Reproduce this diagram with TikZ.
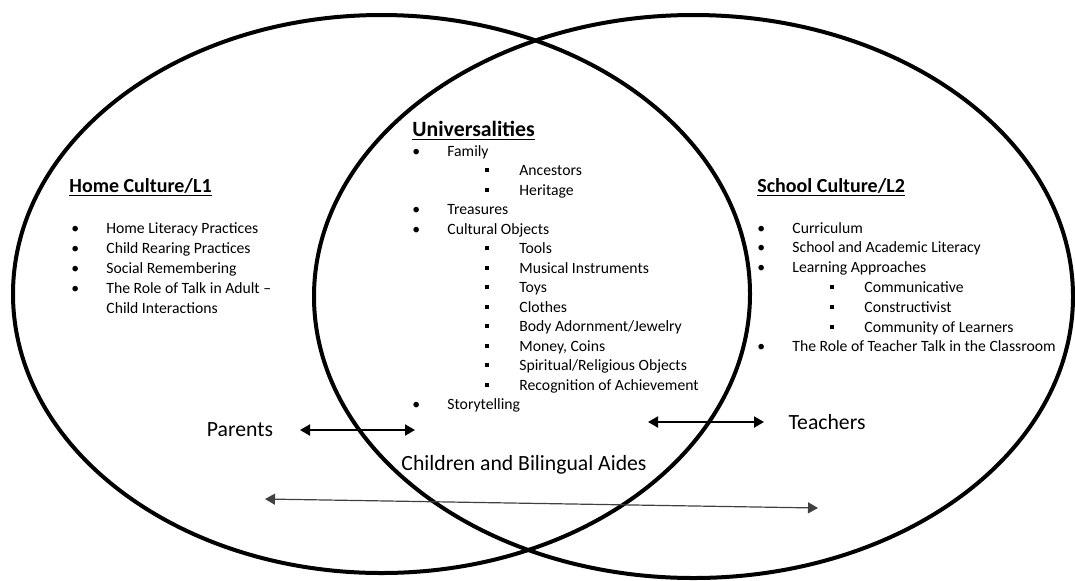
\documentclass[tikz,border=0pt]{standalone}
\usepackage{fontspec}
\setmainfont{Carlito}
\usepackage{tikz}
\usetikzlibrary{positioning,arrows.meta,shapes.geometric}
\tikzset{borde/.style={draw,ellipse,line width=2pt,inner sep=0pt}}
\tikzset{flecha/.style={line width=1pt,{Triangle[length=5pt,width=5.5pt]}-{Triangle[length=5pt,width=5.5pt]}}}
\tikzset{lista/.style={inner sep=0pt,anchor=base west,align=left}}
\tikzset{titulo/.style={inner sep=0pt,anchor=base west,font=\bfseries}}
\tikzset{etiqueta/.style={inner sep=0pt,font=\fontsize{10.85}{13}\selectfont}}
\newcommand{\itm}[1]{\makebox[17.5pt][l]{\textbullet}#1}
\newcommand{\subitm}[1]{\hspace*{36.5pt}\makebox[17pt][l]{\rule[1.6pt]{2pt}{2pt}}#1}

\begin{document}
\begin{tikzpicture}[x=0.5pt,y=-0.5pt]
            \useasboundingbox (0,0) rectangle (1075,580);

            % los dos circulos
            \node[borde,minimum width=368.5pt,minimum height=279pt] (casa) at (381.5,294) {};
            \node[borde,minimum width=379.5pt,minimum height=281.5pt] (escuela) at (693.5,296.5) {};

            % titulos
            \node[titulo,font=\bfseries\fontsize{10}{12}\selectfont] (t1) at (69,192) {\underline{Home Culture/L1}};
            \node[titulo,font=\bfseries\fontsize{10.9}{13}\selectfont] (t2) at (412,136) {\underline{Universalities}};
            \node[titulo,font=\bfseries\fontsize{10}{12}\selectfont] (t3) at (757,192) {\underline{School Culture/L2}};

            % listas
            \node[lista,font=\fontsize{7.85}{10.1}\selectfont] (l1) at (71,233) {\begin{tabular}[t]{@{}l@{}}
                \itm{Home Literacy Practices}\\
                \itm{Child Rearing Practices}\\
                \itm{Social Remembering}\\
                \itm{The Role of Talk in Adult --}\\
                \hspace*{17.5pt}Child Interactions
            \end{tabular}};
            \node[lista,font=\fontsize{7.85}{9.75}\selectfont] (l2) at (412,156) {\begin{tabular}[t]{@{}l@{}}
                \itm{Family}\\
                \subitm{Ancestors}\\
                \subitm{Heritage}\\
                \itm{Treasures}\\
                \itm{Cultural Objects}\\
                \subitm{Tools}\\
                \subitm{Musical Instruments}\\
                \subitm{Toys}\\
                \subitm{Clothes}\\
                \subitm{Body Adornment/Jewelry}\\
                \subitm{Money, Coins}\\
                \subitm{Spiritual/Religious Objects}\\
                \subitm{Recognition of Achievement}\\
                \itm{Storytelling}
            \end{tabular}};
            \node[lista,font=\fontsize{7.85}{9.9}\selectfont] (l3) at (757,233) {\begin{tabular}[t]{@{}l@{}}
                \itm{Curriculum}\\
                \itm{School and Academic Literacy}\\
                \itm{Learning Approaches}\\
                \subitm{Communicative}\\
                \subitm{Constructivist}\\
                \subitm{Community of Learners}\\
                \itm{The Role of Teacher Talk in the Classroom}
            \end{tabular}};

            % personas
            \node[etiqueta] (padres) at (240,430) {Parents};
            \node[etiqueta] (maestros) at (827,422) {Teachers};
            \node[etiqueta] (ninos) at (524,465) {Children and Bilingual Aides};

            \coordinate (p1) at (300,430);
            \coordinate (p2) at (415,430);
            \coordinate (m1) at (648,422);
            \coordinate (m2) at (764,422);
            \coordinate (n1) at (265,499);
            \coordinate (n2) at (818,508);

            \draw[flecha] (p1) to (p2);
            \draw[flecha] (m1) to (m2);
            \draw[flecha,line width=0.6pt,black!75] (n1) to (n2);
        \end{tikzpicture}
\end{document}
